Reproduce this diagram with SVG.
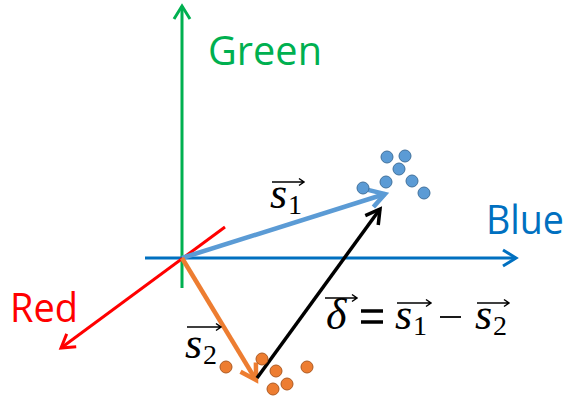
<svg xmlns="http://www.w3.org/2000/svg" width="570" height="403" viewBox="0 0 570 403">
<style>
.lbl{font-family:"Open Sans","Noto Sans",sans-serif;font-size:41px}
.m{font-family:"Liberation Serif","DejaVu Serif",serif;font-style:italic;font-size:44px;fill:#000}
.sub{font-family:"Liberation Serif","DejaVu Serif",serif;font-size:28px;fill:#000}
.ov{stroke:#000;stroke-width:1.5;fill:none}
.op{stroke:#000;fill:none}
.bdot{fill:#5B9BD5;stroke:#41719C;stroke-width:1}
.odot{fill:#ED7D31;stroke:#AE5A21;stroke-width:1}
</style>
<defs>
<marker id="ag" markerUnits="userSpaceOnUse" orient="auto" refX="0" refY="0" overflow="visible"><path d="M-13,-8 L0,0 L-13,8" fill="none" stroke="#00B050" stroke-width="3"/></marker>
<marker id="ab" markerUnits="userSpaceOnUse" orient="auto" refX="0" refY="0" overflow="visible"><path d="M-13,-8 L0,0 L-13,8" fill="none" stroke="#0070C0" stroke-width="3"/></marker>
<marker id="ar" markerUnits="userSpaceOnUse" orient="auto" refX="0" refY="0" overflow="visible"><path d="M-13,-8 L0,0 L-13,8" fill="none" stroke="#FF0000" stroke-width="3"/></marker>
<marker id="as1" markerUnits="userSpaceOnUse" orient="auto" refX="0" refY="0" overflow="visible"><path d="M-15,-9 L0,0 L-15,9" fill="none" stroke="#5B9BD5" stroke-width="4.5"/></marker>
<marker id="as2" markerUnits="userSpaceOnUse" orient="auto" refX="0" refY="0" overflow="visible"><path d="M-15,-9 L0,0 L-15,9" fill="none" stroke="#ED7D31" stroke-width="4.5"/></marker>
<marker id="ad" markerUnits="userSpaceOnUse" orient="auto" refX="0" refY="0" overflow="visible"><path d="M-14,-8 L0,0 L-14,8" fill="none" stroke="#000" stroke-width="3.5"/></marker>
</defs>
<g id="connectors" fill="none">
<line x1="182" y1="288" x2="182" y2="6" stroke="#00B050" stroke-width="3" marker-end="url(#ag)"/>
<line x1="145" y1="258" x2="516" y2="258" stroke="#0070C0" stroke-width="3" marker-end="url(#ab)"/>
<line x1="225" y1="227" x2="61" y2="348" stroke="#FF0000" stroke-width="3" marker-end="url(#ar)"/>
<line x1="182" y1="258" x2="385" y2="194" stroke="#5B9BD5" stroke-width="4.5" marker-end="url(#as1)"/>
<line x1="182" y1="258" x2="256" y2="380" stroke="#ED7D31" stroke-width="4.5" marker-end="url(#as2)"/>
<line x1="257" y1="378" x2="380" y2="209" stroke="#000" stroke-width="3.5" marker-end="url(#ad)"/>
</g>
<g id="green-label"><text class="lbl" x="208" y="65" fill="#00B050" textLength="114" lengthAdjust="spacingAndGlyphs">Green</text></g>
<g id="blue-label"><text class="lbl" x="486" y="234" fill="#0070C0" textLength="78" lengthAdjust="spacingAndGlyphs">Blue</text></g>
<g id="red-label"><text class="lbl" x="10" y="322" fill="#FF0000" textLength="68" lengthAdjust="spacingAndGlyphs">Red</text></g>
<g id="blue-cluster">
<circle class="bdot" cx="363" cy="188" r="6"/>
<circle class="bdot" cx="387" cy="157" r="6"/>
<circle class="bdot" cx="405" cy="156" r="6"/>
<circle class="bdot" cx="399" cy="169" r="6"/>
<circle class="bdot" cx="386" cy="182" r="6"/>
<circle class="bdot" cx="412" cy="181" r="6"/>
<circle class="bdot" cx="424" cy="193" r="6"/>
</g>
<g id="orange-cluster">
<circle class="odot" cx="226" cy="367" r="6"/>
<circle class="odot" cx="262" cy="359" r="6"/>
<circle class="odot" cx="276" cy="371" r="6"/>
<circle class="odot" cx="287" cy="384" r="6"/>
<circle class="odot" cx="273" cy="389" r="6"/>
<circle class="odot" cx="307" cy="367" r="6"/>
</g>
<g id="s1-label">
<text class="m" x="270" y="208">s</text><text class="sub" x="288" y="214">1</text>
<path class="ov" d="M272,182 H304 M299,178.5 L304,182 L299,185.5"/>
</g>
<g id="s2-label">
<text class="m" x="185" y="358">s</text><text class="sub" x="203" y="364">2</text>
<path class="ov" d="M187,327 H221 M216,323.5 L221,327 L216,330.5"/>
</g>
<g id="equation">
<text class="m" x="326" y="329">δ</text>
<path class="ov" d="M325,298 H357 M352,294.5 L357,298 L352,301.5"/>
<path class="op" stroke-width="3.5" d="M361,311 H383 M361,322 H383"/>
<text class="m" x="395" y="329">s</text><text class="sub" x="413" y="335">1</text>
<path class="ov" d="M397,303 H431 M426,299.5 L431,303 L426,306.5"/>
<path class="op" stroke-width="1.8" d="M440,317 H461"/>
<text class="m" x="475" y="329">s</text><text class="sub" x="493" y="335">2</text>
<path class="ov" d="M477,303 H509 M504,299.5 L509,303 L504,306.5"/>
</g>
</svg>
